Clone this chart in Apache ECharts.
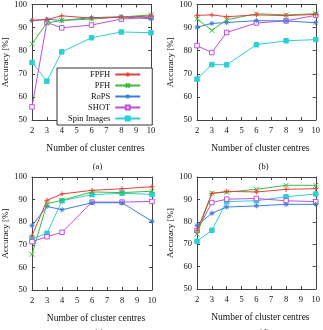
<!DOCTYPE html>
<html>
<head>
<meta charset="utf-8">
<script src="https://cdn.jsdelivr.net/npm/echarts@6/dist/echarts.min.js"></script>
<style>
  html, body { margin: 0; padding: 0; background: #fff; }
  #chart { width: 323px; height: 330px; }
</style>
</head>
<body>
<div id="chart"></div>
<script>
const clusters = [2, 3, 4, 6, 8, 10];
const methods = ['FPFH', 'PFH', 'RoPS', 'SHOT', 'Spin Images'];
const yTicks = [50, 60, 70, 80, 90, 100];

// (a)
const fpfhA = [93.1, 93.5, 95.1, 94.1, 94.5, 95.0];
const pfhA = [83.0, 92.0, 93.1, 93.7, 94.6, 95.5];
const ropsA = [93.1, 93.6, 93.1, 94.3, 94.7, 93.8];
const shotA = [55.7, 92.2, 89.9, 91.1, 93.7, 94.5];
const spinA = [74.9, 66.8, 79.5, 85.6, 88.1, 87.8];
// (b)
const fpfhB = [95.3, 95.5, 94.7, 95.5, 95.2, 95.7];
const pfhB = [93.8, 88.8, 93.4, 96.0, 95.5, 96.0];
const ropsB = [90.2, 91.8, 92.2, 93.0, 92.9, 92.1];
const shotB = [82.2, 79.2, 87.9, 92.0, 92.9, 95.3];
const spinB = [67.7, 74.0, 73.9, 82.6, 84.3, 84.8];
// (c)
const fpfhC = [74.0, 89.7, 92.5, 94.1, 94.8, 95.7];
const pfhC = [65.8, 88.2, 89.7, 93.4, 93.1, 93.7];
const ropsC = [78.5, 87.0, 85.5, 88.6, 88.6, 80.4];
const shotC = [71.4, 73.6, 75.5, 88.9, 88.9, 89.2];
const spinC = [72.6, 75.1, 89.5, 92.2, 92.8, 92.3];
// (d)
const fpfhD = [76.0, 92.6, 93.6, 93.3, 94.5, 94.8];
const pfhD = [74.5, 92.8, 93.2, 94.5, 96.3, 96.3];
const ropsD = [78.4, 83.8, 86.6, 87.1, 87.8, 87.8];
const shotD = [76.0, 88.6, 90.1, 90.4, 89.4, 89.0];
const spinD = [71.3, 76.2, 89.0, 89.4, 91.2, 92.4];

const panels = [
  { tag: '(a)', vals: [fpfhA, pfhA, ropsA, shotA, spinA], grid: { left: 30, top: 4, width: 121, height: 116 } },
  { tag: '(b)', vals: [fpfhB, pfhB, ropsB, shotB, spinB], grid: { left: 197, top: 4, width: 119, height: 116 } },
  { tag: '(c)', vals: [fpfhC, pfhC, ropsC, shotC, spinC], grid: { left: 32, top: 177, width: 120, height: 113 } },
  { tag: '(d)', vals: [fpfhD, pfhD, ropsD, shotD, spinD], grid: { left: 197, top: 177, width: 120, height: 112 } }
];

const colors = ['#e5413b', '#3fb83f', '#3d7dd8', '#c04ee0', '#2ccfd6'];
const symbols = [
  'path://M0,5L10,5M5,0L5,10',
  'path://M0,0L10,10M10,0L0,10',
  'path://M0,5L10,5M5,0L5,10M1.5,1.5L8.5,8.5M8.5,1.5L1.5,8.5',
  'rect',
  'rect'
];
const font = 'Liberation Serif';
const frame = '#444';

var myChart = echarts.init(document.getElementById('chart'));

var grids = [], xAxes = [], yAxes = [], series = [], titles = [];
panels.forEach(function (p, i) {
  grids.push(p.grid);
  var base = {
    gridIndex: i, type: 'value', min: 2, max: 10, interval: 1,
    axisLine: { show: true, lineStyle: { color: frame, width: 1 } },
    axisTick: { show: true, inside: true, length: 3, lineStyle: { color: frame } },
    splitLine: { show: false }
  };
  xAxes.push(Object.assign({}, base, {
    position: 'bottom',
    name: 'Number of cluster centres', nameLocation: 'middle', nameGap: 23,
    nameTextStyle: { fontFamily: font, fontSize: 9.5, color: '#111', padding: [0, 0, 0, 8] },
    axisLabel: { fontFamily: font, fontSize: 8.5, color: '#111', margin: 6 }
  }));
  xAxes.push(Object.assign({}, base, { position: 'top', axisLabel: { show: false } }));
  var ybase = Object.assign({}, base, { min: 50, max: 100, interval: 10 });
  yAxes.push(Object.assign({}, ybase, {
    position: 'left',
    name: 'Accuracy [%]', nameLocation: 'middle', nameGap: 22,
    nameTextStyle: { fontFamily: font, fontSize: 9, color: '#111' },
    axisLabel: { fontFamily: font, fontSize: 8.5, color: '#111', margin: 5 }
  }));
  yAxes.push(Object.assign({}, ybase, { position: 'right', axisLabel: { show: false } }));

  methods.forEach(function (m, k) {
    var isOpen = k === 3;
    series.push({
      name: m, type: 'line',
      xAxisIndex: i * 2, yAxisIndex: i * 2,
      data: clusters.map(function (c, j) { return [c, p.vals[k][j]]; }),
      symbol: symbols[k],
      symbolSize: k >= 3 ? 4.5 : 5,
      lineStyle: { color: colors[k], width: 1 },
      itemStyle: {
        color: isOpen ? '#fff' : colors[k],
        borderColor: colors[k],
        borderWidth: 1
      },
      z: 10 - k
    });
  });

  titles.push({
    text: p.tag,
    left: p.grid.left + p.grid.width / 2 + 2, top: i < 2 ? 157 : 323,
    textAlign: 'center',
    textStyle: { fontFamily: font, fontSize: 8.5, fontWeight: 'normal', color: '#111' }
  });
});

var option = {
  animation: false,
  title: titles,
  legend: {
    data: methods,
    orient: 'vertical',
    align: 'right',
    left: 57, top: 68,
    padding: [2, 11, 2, 11],
    itemGap: 2,
    itemWidth: 25, itemHeight: 5,
    backgroundColor: '#fff',
    borderColor: '#333', borderWidth: 1, borderRadius: 0,
    textStyle: { fontFamily: font, fontSize: 8.5, lineHeight: 8, color: '#111' }
  },
  grid: grids,
  xAxis: xAxes,
  yAxis: yAxes,
  series: series
};

myChart.setOption(option);
window.addEventListener('resize', function () {
  myChart.resize();
});
</script>
</body>
</html>
